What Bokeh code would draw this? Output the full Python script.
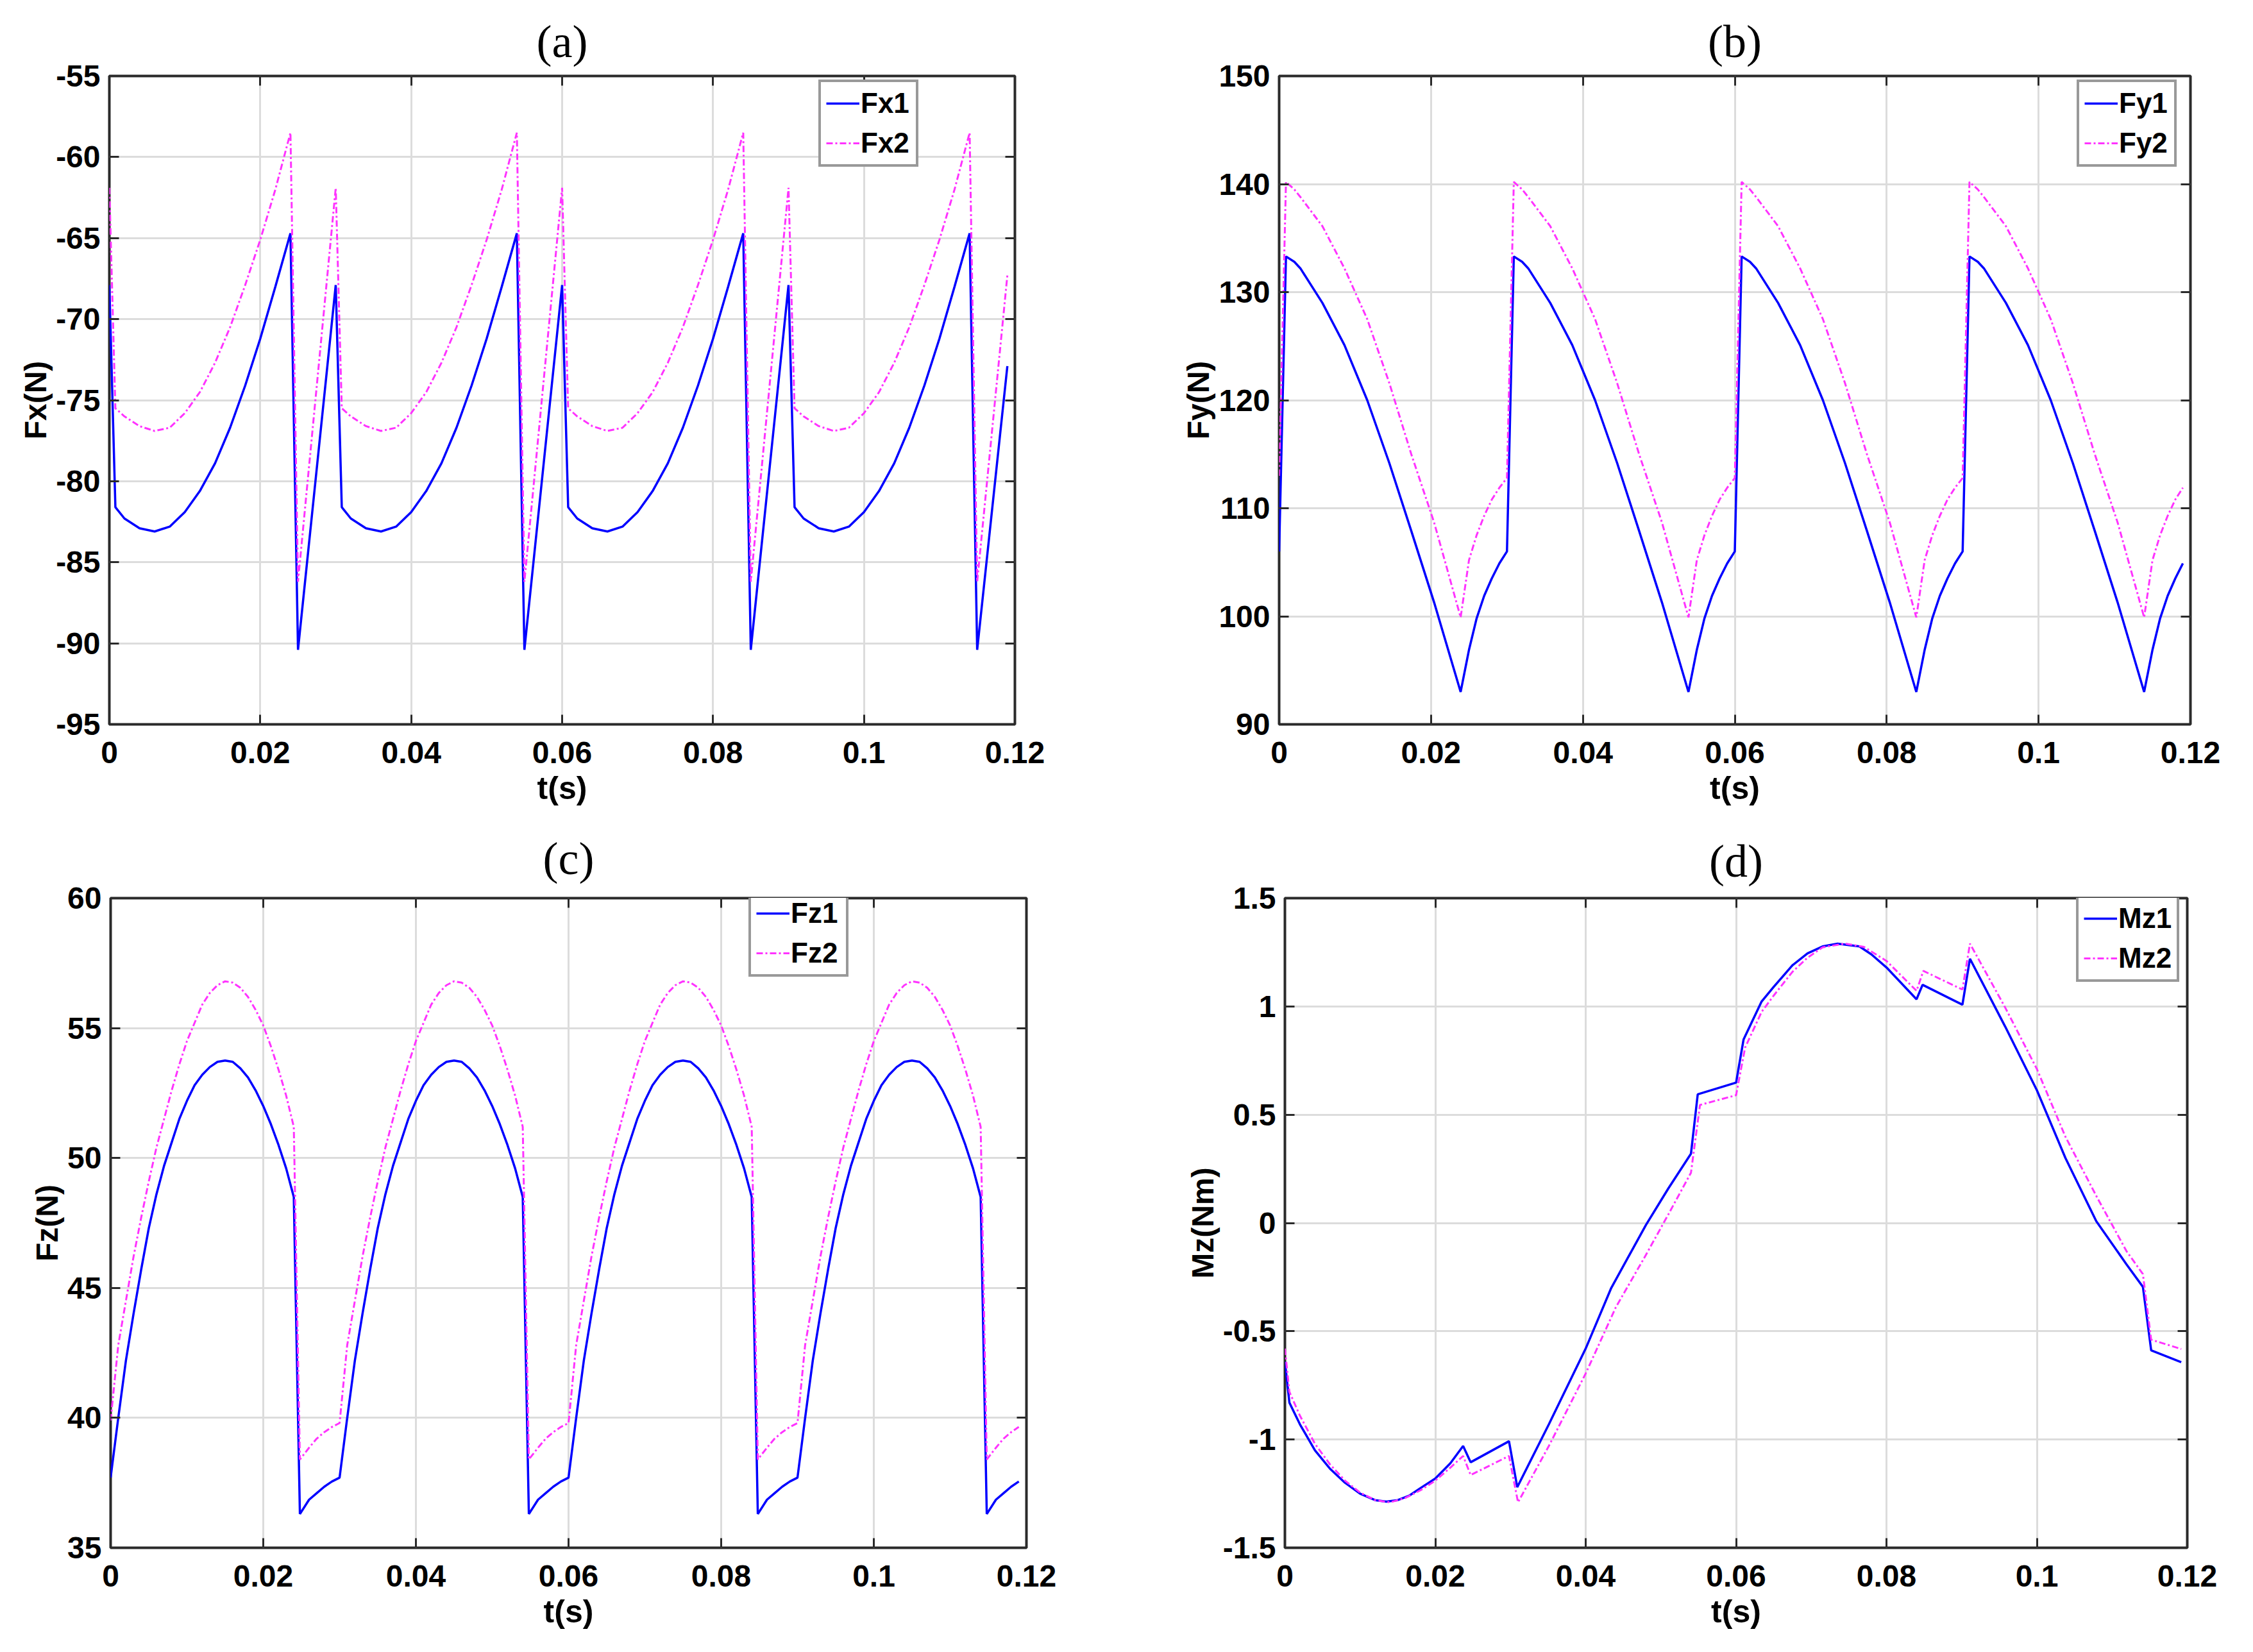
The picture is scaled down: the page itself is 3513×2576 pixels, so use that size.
from bokeh.embed import file_html
from bokeh.resources import INLINE
from bokeh.plotting import figure
from bokeh.layouts import column, row
from bokeh.models import Range1d, FixedTicker, LinearAxis

# ---- data ----
t_ticks = [0, 0.02, 0.04, 0.06, 0.08, 0.1, 0.12]
t_tick_labels = ["0", "0.02", "0.04", "0.06", "0.08", "0.1", "0.12"]

# (a) Fx
ta = [0, 0.0008, 0.002, 0.004, 0.006, 0.008, 0.010, 0.012, 0.014, 0.016, 0.018, 0.020, 0.022, 0.024, 0.025,
      0.030, 0.0308, 0.032, 0.034, 0.036, 0.038, 0.040, 0.042, 0.044, 0.046, 0.048, 0.050, 0.052, 0.054, 0.055,
      0.060, 0.0608, 0.062, 0.064, 0.066, 0.068, 0.070, 0.072, 0.074, 0.076, 0.078, 0.080, 0.082, 0.084, 0.085,
      0.090, 0.0908, 0.092, 0.094, 0.096, 0.098, 0.100, 0.102, 0.104, 0.106, 0.108, 0.110, 0.112, 0.114, 0.115,
      0.119]
fx1 = [-67.9, -81.6, -82.3, -82.9, -83.1, -82.8, -81.9, -80.6, -78.9, -76.7, -74.1, -71.2, -68.0, -64.7, -90.4,
       -67.9, -81.6, -82.3, -82.9, -83.1, -82.8, -81.9, -80.6, -78.9, -76.7, -74.1, -71.2, -68.0, -64.7, -90.4,
       -67.9, -81.6, -82.3, -82.9, -83.1, -82.8, -81.9, -80.6, -78.9, -76.7, -74.1, -71.2, -68.0, -64.7, -90.4,
       -67.9, -81.6, -82.3, -82.9, -83.1, -82.8, -81.9, -80.6, -78.9, -76.7, -74.1, -71.2, -68.0, -64.7, -90.4,
       -72.9]
fx2 = [-61.9, -75.5, -76.0, -76.6, -76.9, -76.7, -75.8, -74.5, -72.7, -70.5, -67.9, -65.1, -62.0, -58.5, -86.2,
       -61.9, -75.5, -76.0, -76.6, -76.9, -76.7, -75.8, -74.5, -72.7, -70.5, -67.9, -65.1, -62.0, -58.5, -86.2,
       -61.9, -75.5, -76.0, -76.6, -76.9, -76.7, -75.8, -74.5, -72.7, -70.5, -67.9, -65.1, -62.0, -58.5, -86.2,
       -61.9, -75.5, -76.0, -76.6, -76.9, -76.7, -75.8, -74.5, -72.7, -70.5, -67.9, -65.1, -62.0, -58.5, -86.2,
       -67.3]
fx_ticks = [-95, -90, -85, -80, -75, -70, -65, -60, -55]

# (b) Fy
tb = [0, 0.0009, 0.002, 0.0028, 0.0057, 0.0086, 0.0116, 0.0145, 0.0174, 0.0204, 0.0239, 0.025, 0.026, 0.027, 0.028, 0.029,
      0.030, 0.0309, 0.032, 0.0328, 0.0357, 0.0386, 0.0416, 0.0445, 0.0474, 0.0504, 0.0539, 0.055, 0.056, 0.057, 0.058, 0.059,
      0.060, 0.0609, 0.062, 0.0628, 0.0657, 0.0686, 0.0716, 0.0745, 0.0774, 0.0804, 0.0839, 0.085, 0.086, 0.087, 0.088, 0.089,
      0.090, 0.0909, 0.092, 0.0928, 0.0957, 0.0986, 0.1016, 0.1045, 0.1074, 0.1104, 0.1139, 0.115, 0.116, 0.117, 0.118, 0.119]
fy1 = [106.0, 133.3, 132.8, 132.2, 129.0, 125.1, 120.0, 114.2, 107.9, 101.3, 93.0, 96.9, 99.8, 101.9, 103.5, 104.9,
       106.0, 133.3, 132.8, 132.2, 129.0, 125.1, 120.0, 114.2, 107.9, 101.3, 93.0, 96.9, 99.8, 101.9, 103.5, 104.9,
       106.0, 133.3, 132.8, 132.2, 129.0, 125.1, 120.0, 114.2, 107.9, 101.3, 93.0, 96.9, 99.8, 101.9, 103.5, 104.9,
       106.0, 133.3, 132.8, 132.2, 129.0, 125.1, 120.0, 114.2, 107.9, 101.3, 93.0, 96.9, 99.8, 101.9, 103.5, 104.9]
fy2 = [113.0, 140.2, 139.5, 138.8, 136.1, 132.2, 127.5, 121.6, 115.0, 108.7, 99.9, 105.2, 107.5, 109.3, 110.8, 111.9,
       112.8, 140.2, 139.5, 138.8, 136.1, 132.2, 127.5, 121.6, 115.0, 108.7, 99.9, 105.2, 107.5, 109.3, 110.8, 111.9,
       112.8, 140.2, 139.5, 138.8, 136.1, 132.2, 127.5, 121.6, 115.0, 108.7, 99.9, 105.2, 107.5, 109.3, 110.8, 111.9,
       112.8, 140.2, 139.5, 138.8, 136.1, 132.2, 127.5, 121.6, 115.0, 108.7, 99.9, 105.2, 107.5, 109.3, 110.8, 111.9]
fy_ticks = [90, 100, 110, 120, 130, 140, 150]

# (c) Fz
tc = [0, 0.001, 0.002, 0.003, 0.004, 0.005, 0.006, 0.007, 0.008, 0.009, 0.010, 0.011, 0.012, 0.013, 0.014,
      0.015, 0.016, 0.017, 0.018, 0.019, 0.020, 0.021, 0.022, 0.023, 0.024, 0.0248, 0.026, 0.027, 0.028, 0.029,
      0.030, 0.031, 0.032, 0.033, 0.034, 0.035, 0.036, 0.037, 0.038, 0.039, 0.040, 0.041, 0.042, 0.043, 0.044,
      0.045, 0.046, 0.047, 0.048, 0.049, 0.050, 0.051, 0.052, 0.053, 0.054, 0.0548, 0.056, 0.057, 0.058, 0.059,
      0.060, 0.061, 0.062, 0.063, 0.064, 0.065, 0.066, 0.067, 0.068, 0.069, 0.070, 0.071, 0.072, 0.073, 0.074,
      0.075, 0.076, 0.077, 0.078, 0.079, 0.080, 0.081, 0.082, 0.083, 0.084, 0.0848, 0.086, 0.087, 0.088, 0.089,
      0.090, 0.091, 0.092, 0.093, 0.094, 0.095, 0.096, 0.097, 0.098, 0.099, 0.100, 0.101, 0.102, 0.103, 0.104,
      0.105, 0.106, 0.107, 0.108, 0.109, 0.110, 0.111, 0.112, 0.113, 0.114, 0.1148, 0.116, 0.117, 0.118, 0.119]
fz1 = [37.7, 40.0, 42.2, 44.0, 45.7, 47.3, 48.6, 49.7, 50.6, 51.5, 52.2, 52.8, 53.2, 53.5, 53.7,
       53.75, 53.7, 53.45, 53.1, 52.6, 52.0, 51.3, 50.5, 49.6, 48.5, 36.3, 36.85, 37.1, 37.35, 37.55,
       37.7, 40.0, 42.2, 44.0, 45.7, 47.3, 48.6, 49.7, 50.6, 51.5, 52.2, 52.8, 53.2, 53.5, 53.7,
       53.75, 53.7, 53.45, 53.1, 52.6, 52.0, 51.3, 50.5, 49.6, 48.5, 36.3, 36.85, 37.1, 37.35, 37.55,
       37.7, 40.0, 42.2, 44.0, 45.7, 47.3, 48.6, 49.7, 50.6, 51.5, 52.2, 52.8, 53.2, 53.5, 53.7,
       53.75, 53.7, 53.45, 53.1, 52.6, 52.0, 51.3, 50.5, 49.6, 48.5, 36.3, 36.85, 37.1, 37.35, 37.55,
       37.7, 40.0, 42.2, 44.0, 45.7, 47.3, 48.6, 49.7, 50.6, 51.5, 52.2, 52.8, 53.2, 53.5, 53.7,
       53.75, 53.7, 53.45, 53.1, 52.6, 52.0, 51.3, 50.5, 49.6, 48.5, 36.3, 36.85, 37.1, 37.35, 37.55]
fz2 = [39.9, 42.8, 44.5, 46.2, 47.7, 49.1, 50.4, 51.5, 52.6, 53.6, 54.5, 55.2, 55.9, 56.35, 56.65,
       56.8, 56.75, 56.55, 56.2, 55.7, 55.1, 54.3, 53.4, 52.4, 51.2, 38.4, 38.85, 39.2, 39.45, 39.65,
       39.8, 42.8, 44.5, 46.2, 47.7, 49.1, 50.4, 51.5, 52.6, 53.6, 54.5, 55.2, 55.9, 56.35, 56.65,
       56.8, 56.75, 56.55, 56.2, 55.7, 55.1, 54.3, 53.4, 52.4, 51.2, 38.4, 38.85, 39.2, 39.45, 39.65,
       39.8, 42.8, 44.5, 46.2, 47.7, 49.1, 50.4, 51.5, 52.6, 53.6, 54.5, 55.2, 55.9, 56.35, 56.65,
       56.8, 56.75, 56.55, 56.2, 55.7, 55.1, 54.3, 53.4, 52.4, 51.2, 38.4, 38.85, 39.2, 39.45, 39.65,
       39.8, 42.8, 44.5, 46.2, 47.7, 49.1, 50.4, 51.5, 52.6, 53.6, 54.5, 55.2, 55.9, 56.35, 56.65,
       56.8, 56.75, 56.55, 56.2, 55.7, 55.1, 54.3, 53.4, 52.4, 51.2, 38.4, 38.85, 39.2, 39.45, 39.65]
fz_ticks = [35, 40, 45, 50, 55, 60]

# (d) Mz
td1 = [0, 0.0006, 0.002, 0.004, 0.006, 0.008, 0.010, 0.012, 0.0135, 0.015, 0.0165, 0.018, 0.020, 0.022, 0.0237,
       0.0247, 0.0298, 0.0309, 0.0351, 0.040, 0.0434, 0.048, 0.051, 0.054, 0.0549, 0.060, 0.061, 0.0634, 0.065,
       0.0675, 0.0695, 0.0715, 0.0735, 0.0764, 0.078, 0.080, 0.084, 0.0848, 0.0901, 0.0911, 0.0958, 0.100,
       0.1038, 0.1079, 0.1119, 0.1141, 0.1152, 0.1192]
mz1 = [-0.64, -0.83, -0.93, -1.05, -1.135, -1.20, -1.25, -1.28, -1.287, -1.28, -1.26, -1.225, -1.18, -1.11, -1.03,
       -1.105, -1.008, -1.22, -0.93, -0.58, -0.30, -0.01, 0.16, 0.32, 0.594, 0.648, 0.848, 1.023, 1.09,
       1.19, 1.245, 1.277, 1.29, 1.277, 1.24, 1.18, 1.033, 1.10, 1.008, 1.22, 0.906, 0.613,
       0.30, 0.008, -0.19, -0.295, -0.588, -0.643]
td2 = [0, 0.0006, 0.002, 0.004, 0.006, 0.008, 0.010, 0.012, 0.014, 0.016, 0.018, 0.020, 0.022, 0.0237,
       0.0247, 0.0298, 0.031, 0.0351, 0.040, 0.044, 0.048, 0.051, 0.054, 0.0552, 0.060, 0.0612, 0.0634, 0.065,
       0.0675, 0.0695, 0.0715, 0.0745, 0.077, 0.080, 0.084, 0.0849, 0.0901, 0.0911, 0.0958, 0.100,
       0.1038, 0.1079, 0.1119, 0.1141, 0.1152, 0.1192]
mz2 = [-0.58, -0.78, -0.89, -1.02, -1.115, -1.19, -1.245, -1.28, -1.29, -1.27, -1.235, -1.19, -1.13, -1.076,
       -1.164, -1.076, -1.29, -1.03, -0.695, -0.39, -0.148, 0.04, 0.232, 0.545, 0.59, 0.81, 0.975, 1.05,
       1.16, 1.225, 1.273, 1.29, 1.275, 1.21, 1.072, 1.164, 1.078, 1.29, 0.994, 0.711,
       0.398, 0.125, -0.129, -0.236, -0.539, -0.582]
mz_ticks = [-1.5, -1, -0.5, 0, 0.5, 1, 1.5]
mz_tick_labels = ["-1.5", "-1", "-0.5", "0", "0.5", "1", "1.5"]

NARROW = "Liberation Sans Narrow, Arial Narrow, Liberation Sans"
W = 1748
H_TOP, H_BOT = 1273, 1285
AXC = "#2a2a2a"


def panel(title, ylabel, yrange, yticks, ylabels, t, s1, s2, names, size, borders, leg_left, leg_top,
          t2=None, title_gap=28):
    left, right, top, bottom = borders
    w, h = size
    p = figure(width=w, height=h, output_backend="svg", toolbar_location=None,
               x_range=Range1d(0, 0.12), y_range=Range1d(*yrange),
               min_border_left=left, min_border_right=right,
               min_border_top=top, min_border_bottom=bottom)
    p.background_fill_color = "white"
    p.border_fill_color = "white"
    p.outline_line_color = AXC
    p.outline_line_width = 4

    p.title.text = title
    p.title.align = "center"
    p.title.text_font = "Liberation Serif"
    p.title.text_font_style = "normal"
    p.title.text_font_size = "72px"
    p.title.text_color = "black"
    p.title.standoff = title_gap

    xt = FixedTicker(ticks=t_ticks)
    yt = FixedTicker(ticks=yticks)
    p.xaxis.ticker = xt
    p.yaxis.ticker = yt
    p.xaxis.major_label_overrides = dict(zip(t_ticks, t_tick_labels))
    p.yaxis.major_label_overrides = dict(zip(yticks, ylabels))
    p.xgrid.ticker = xt
    p.ygrid.ticker = yt
    for g in (p.xgrid, p.ygrid):
        g.grid_line_color = "#dcdcdc"
        g.grid_line_width = 3

    for ax in (p.xaxis, p.yaxis):
        ax.axis_line_color = None
        ax.major_tick_in = 15
        ax.major_tick_out = 0
        ax.major_tick_line_color = AXC
        ax.major_tick_line_width = 3
        ax.minor_tick_line_color = None
        ax.major_label_text_font = NARROW
        ax.major_label_text_font_style = "bold"
        ax.major_label_text_font_size = "48px"
        ax.major_label_text_color = "black"
        ax.axis_label_text_color = "black"
        ax.axis_label_text_font_style = "bold"
    p.xaxis.major_label_standoff = 27
    p.yaxis.major_label_standoff = 14
    p.xaxis.axis_label = "t(s)"
    p.xaxis.axis_label_text_font = NARROW
    p.xaxis.axis_label_text_font_size = "50px"
    p.xaxis.axis_label_standoff = 8
    p.yaxis.axis_label = ylabel
    p.yaxis.axis_label_text_font = "Liberation Sans"
    p.yaxis.axis_label_text_font_size = "48px"
    p.yaxis.axis_label_standoff = 2

    # box ticks on top and right, without labels
    for side, tk in (("right", yt), ("above", xt)):
        ax = LinearAxis(ticker=tk, axis_line_color=None, major_tick_in=15, major_tick_out=0,
                        major_tick_line_color=AXC, major_tick_line_width=3,
                        minor_tick_line_color=None, major_label_text_color=None,
                        major_label_text_font_size="2px", major_label_standoff=0)
        p.add_layout(ax, side)

    p.line(t, s1, line_color="#0000ff", line_width=3.5, legend_label=names[0])
    p.line(t2 if t2 is not None else t, s2, line_color="#ff33ff", line_width=3,
           line_dash="10 4 3 4", legend_label=names[1])

    fh = h - top - bottom
    lg = p.legend[0]
    lg.location = (leg_left, fh - leg_top - 118)
    lg.label_text_font = NARROW
    lg.label_text_font_style = "bold"
    lg.label_text_font_size = "44px"
    lg.label_text_color = "black"
    lg.label_height = 44
    lg.label_width = 78
    lg.glyph_height = 44
    lg.glyph_width = 52
    lg.label_standoff = 2
    lg.spacing = 12
    lg.padding = 8
    lg.margin = 0
    lg.border_line_color = "#333333"
    lg.border_line_width = 4
    lg.background_fill_alpha = 1
    return p


pa = panel("(a)", "Fx(N)", (-95, -55), fx_ticks, [str(v) for v in fx_ticks],
           ta, fx1, fx2, ("Fx1", "Fx2"), (W, H_TOP), (170, 166, 118, 144), 1106, 24)
pb = panel("(b)", "Fy(N)", (90, 150), fy_ticks, [str(v) for v in fy_ticks],
           tb, fy1, fy2, ("Fy1", "Fy2"), (W, H_TOP), (246, 81, 118, 144), 1244, 24)
pc = panel("(c)", "Fz(N)", (35, 60), fz_ticks, [str(v) for v in fz_ticks],
           tc, fz1, fz2, ("Fz1", "Fz2"), (W, H_BOT), (172, 148, 110, 145), 995, 22, title_gap=44)
pd = panel("(d)", "Mz(Nm)", (-1.5, 1.5), mz_ticks, mz_tick_labels,
           td1, mz1, mz2, ("Mz1", "Mz2"), (W, H_BOT), (255, 86, 127, 145), 1234, 13, t2=td2, title_gap=35)

page = column(row(pa, pb), row(pc, pd))
open("out.html", "w").write(file_html(page, INLINE))
